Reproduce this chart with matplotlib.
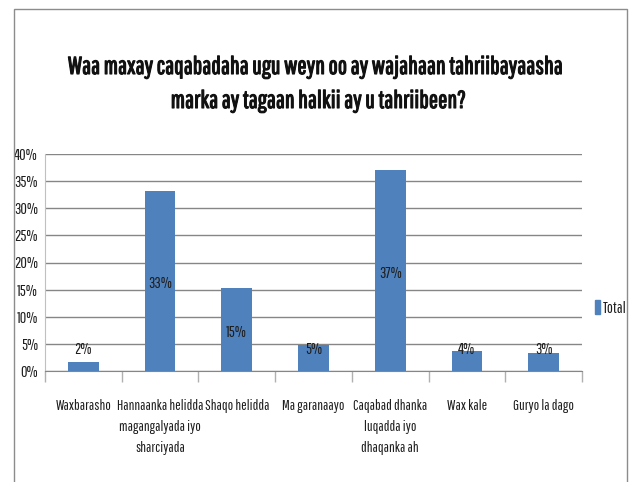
import matplotlib.pyplot as plt
import matplotlib.patheffects as pe
from matplotlib.patches import Rectangle
from matplotlib.ticker import FuncFormatter, FixedLocator
from matplotlib import font_manager

# chart data
categories = ["Waxbarasho", "Hannaanka helidda\nmagangalyada iyo\nsharciyada", "Shaqo helidda",
              "Ma garanaayo", "Caqabad dhanka\nluqadda iyo\ndhaqanka ah", "Wax kale", "Guryo la dago"]
values = [1.6, 33.2, 15.3, 4.8, 37.1, 3.7, 3.3]
value_labels = ["2%", "33%", "15%", "5%", "37%", "4%", "3%"]
yticks = [0, 5, 10, 15, 20, 25, 30, 35, 40]

title_lines = ["Waa maxay caqabadaha ugu weyn oo ay wajahaan tahriibayaasha",
               "marka ay tagaan halkii ay u tahriibeen?"]

# the original uses a very narrow font, take the closest one installed
names = set(f.name for f in font_manager.fontManager.ttflist)
font = "DejaVu Sans"
for cand in ["Pathway Gothic One", "Sofia Sans Extra Condensed", "Saira ExtraCondensed",
             "Fira Sans Extra Condensed", "Roboto Condensed"]:
    if cand in names:
        font = cand
        break
plt.rcParams["font.family"] = [font, "DejaVu Sans"]

bar_color = "#4F81BD"
grid_color = "#868686"
text_color = "#1e1e1e"

fig = plt.figure(figsize=(6.35, 4.82), dpi=100)

# outer frame of the chart
fig.patches.append(Rectangle((13.5 / 635, -0.01), 613 / 635, 1 - 8.5 / 482 + 0.01,
                             transform=fig.transFigure, fill=False,
                             edgecolor="#8c8c8c", linewidth=1))

ax = fig.add_axes([45 / 635, 1 - 371 / 482, (582 - 45) / 635, (371 - 154) / 482])

x = list(range(len(categories)))
ax.bar(x, values, width=0.4, color=bar_color, zorder=3, label="Total")

for xi, v, lab in zip(x, values, value_labels):
    ax.text(xi, max(v / 2 - 0.5, 4.0), lab, ha="center", va="center",
            fontsize=11.5, color=text_color, zorder=4)

ax.set_xlim(-0.5, len(categories) - 0.5)
ax.set_ylim(0, 40)
ax.set_yticks(yticks)
ax.yaxis.set_major_formatter(FuncFormatter(lambda v, p: f"{int(v)}%"))
ax.yaxis.grid(True, color=grid_color, linewidth=1, zorder=0)

ax.set_xticks(x)
ax.set_xticklabels(categories, fontsize=10.5, color=text_color, linespacing=1.65)
ax.tick_params(axis="x", length=0, pad=20)
ax.xaxis.set_minor_locator(FixedLocator([i - 0.5 for i in range(len(categories) + 1)]))
ax.tick_params(axis="x", which="minor", length=8, color="#b0b0b0", width=1)
ax.tick_params(axis="y", length=0, labelsize=11.5, colors=text_color, pad=5)

for s in ["top", "right"]:
    ax.spines[s].set_visible(False)
ax.spines["left"].set_color("#c0c0c0")
ax.spines["bottom"].set_color(grid_color)

# title, fitted to the width it has in the original, thickened a little
bold = [pe.withStroke(linewidth=0.8, foreground="#111111")]
t1 = fig.text(315 / 635, 1 - 67 / 482, title_lines[0], ha="center", va="center",
              fontsize=20, fontweight="bold", color="#111111", path_effects=bold)
t2 = fig.text(318 / 635, 1 - 101 / 482, title_lines[1], ha="center", va="center",
              fontsize=20, fontweight="bold", color="#111111", path_effects=bold)
renderer = fig.canvas.get_renderer()
w = t1.get_window_extent(renderer).width
size = 20 * 492 / w
t1.set_fontsize(size)
t2.set_fontsize(size)

leg = fig.legend(handles=[Rectangle((0, 0), 1, 1, color=bar_color)], labels=["Total"],
                 loc="center left", bbox_to_anchor=(595 / 635, 1 - 308 / 482),
                 frameon=False, handlelength=0.3, handleheight=1.0,
                 handletextpad=0.2, fontsize=11.5, borderpad=0, borderaxespad=0)
for t in leg.get_texts():
    t.set_color(text_color)

fig.savefig("out.png", dpi=100)
